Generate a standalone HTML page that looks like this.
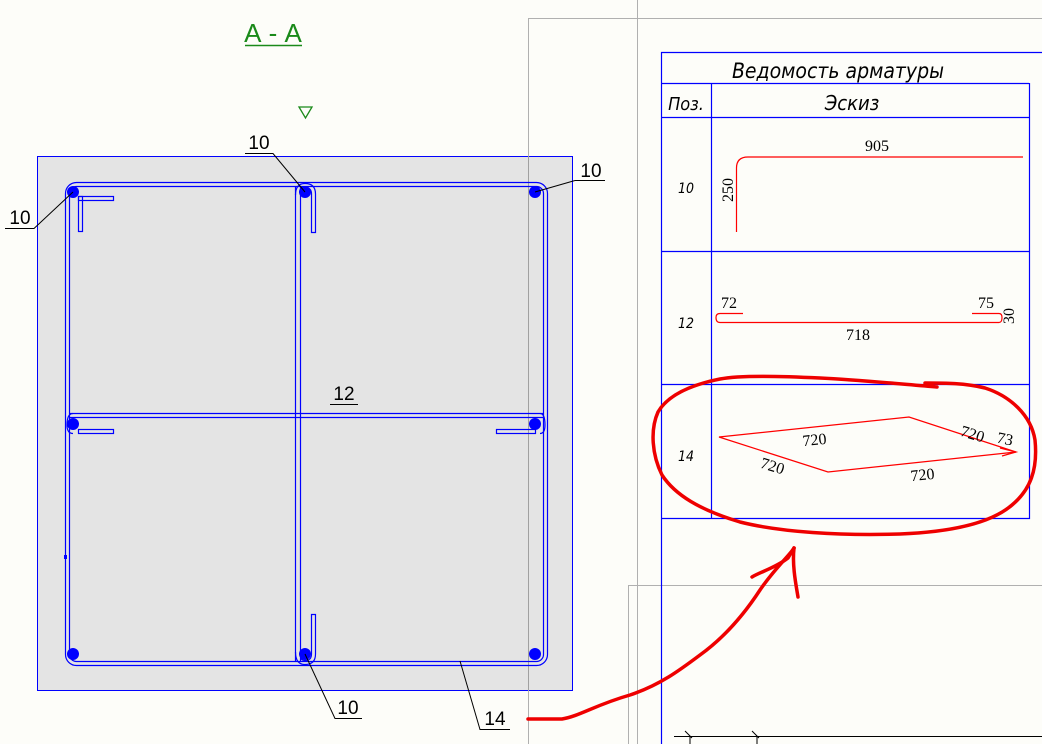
<!DOCTYPE html>
<html><head><meta charset="utf-8"><style>html,body{margin:0;padding:0;background:#fdfdf9;}svg{display:block}</style></head>
<body>
<svg width="1042" height="744" viewBox="0 0 1042 744" xmlns="http://www.w3.org/2000/svg" font-family="Liberation Sans, sans-serif">
<rect width="1042" height="744" fill="#fdfdf9"/>
<g stroke="#b0b0b0" stroke-width="1" fill="none">
<path d="M528.5 744V18.5H1042"/>
<path d="M637.5 0V744"/>
<path d="M628.5 744V585.5H1042"/>
</g>
<text x="273" y="42" font-size="26" fill="#1a8a1a" text-anchor="middle">А - А</text>
<line x1="245" y1="45.5" x2="302" y2="45.5" stroke="#1a8a1a" stroke-width="1.5"/>
<path d="M299 107H312L305.5 118Z" fill="none" stroke="#1a8a1a" stroke-width="1.3"/>
<rect x="37.5" y="156.5" width="535" height="534" fill="#e4e4e4" stroke="#0000ff" stroke-width="1"/>
<line x1="528.5" y1="156" x2="528.5" y2="691" stroke="#a0a0a0"/>
<g stroke="#0000ff" stroke-width="1.2" fill="none">
<rect x="65.5" y="182.5" width="482" height="483" rx="11"/>
<rect x="69.5" y="186.5" width="474" height="475" rx="7"/>
<path d="M295.5 186V662M300.5 186V662"/>
<path d="M69 413.5H544M69 417.5H544"/>
<path d="M295.5 195Q295.5 183.5 305 183.5Q315.5 183.5 315.5 194V232.5H311.5V194Q311.5 187.5 305 187.5Q300.5 187.5 300.5 192"/>
<path d="M295.5 652Q295.5 664.5 305 664.5Q315.5 664.5 315.5 654V614.5H311.5V654Q311.5 660.5 305 660.5Q300.5 660.5 300.5 656"/>
<rect x="78.5" y="196.5" width="35" height="4"/>
<rect x="78.5" y="196.5" width="4" height="35"/>
<rect x="78.5" y="429.5" width="35" height="4"/>
<rect x="496.5" y="429.5" width="39" height="4"/>
<path d="M67 425Q67 413.5 73 413.5M67 425Q67 433.5 73 433.5M545 425Q545 413.5 540 413.5M545 425Q545 433.5 540 433.5"/>
</g>
<g fill="#0000ff">
<circle cx="73" cy="192" r="6"/><circle cx="305" cy="192" r="6"/><circle cx="535" cy="192" r="6"/>
<circle cx="73" cy="424" r="6"/><circle cx="535" cy="424" r="6"/>
<circle cx="73" cy="654" r="6"/><circle cx="305" cy="654" r="6"/><circle cx="535" cy="654" r="6"/>
<rect x="64" y="555" width="3" height="4"/>
</g>
<g stroke="#000" stroke-width="1" fill="none">
<path d="M245 153.5H273L305 192"/>
<path d="M575 180.5H605M575 180.5L535 192"/>
<path d="M5 228.5H34L73 192"/>
<path d="M330 404.5H358"/>
<path d="M335 718.5H362H335L305 654"/>
<path d="M480 729.5H510H480L460 661"/>
</g>
<g font-size="19" fill="#000" text-anchor="middle">
<text x="259" y="149">10</text>
<text x="591" y="177">10</text>
<text x="20" y="224">10</text>
<text x="344" y="400">12</text>
<text x="348" y="714">10</text>
<text x="495" y="725">14</text>
</g>
<g stroke="#0000ff" stroke-width="1.2" fill="none">
<path d="M661.5 744V52.5H1042"/>
<path d="M1029.5 83V518.5H661.5"/>
<path d="M661 83.5H1029M661 117.5H1029M661 251.5H1029M661 384.5H1029"/>
<path d="M711.5 83V518"/>
</g>
<g font-family="DejaVu Sans Condensed, DejaVu Sans, sans-serif" font-style="italic" fill="#000" text-anchor="middle">
<text x="838" y="78" font-size="21">Ведомость арматуры</text>
<text x="686" y="110" font-size="18">Поз.</text>
<text x="852" y="110" font-size="20">Эскиз</text>
<text x="686" y="193" font-size="14">10</text>
<text x="686" y="328" font-size="14">12</text>
<text x="686" y="461" font-size="14">14</text>
</g>
<g stroke="#ff0000" stroke-width="1.2" fill="none">
<path d="M736.5 232V168Q736.5 157 748 157H1023"/>
<path d="M743 313.5H720Q716 313.5 716 317.5Q716 322.5 720 322.5H999Q1002 322.5 1002 317.5Q1002 313.5 999 313.5H972"/>
<path d="M719 437L909 417L1016 452L828 472Z"/>
<path d="M1000 448L1016 452L1002 456"/>
</g>
<g font-family="Liberation Serif, serif" font-size="16" fill="#000" text-anchor="middle">
<text x="877" y="151">905</text>
<text x="733" y="190" transform="rotate(-90 733 190)">250</text>
<text x="729" y="308">72</text>
<text x="986" y="308">75</text>
<text x="858" y="340">718</text>
<text x="1014" y="316" transform="rotate(-90 1014 316)">30</text>
<text x="815" y="445" transform="rotate(-6 815 445)">720</text>
<text x="771" y="471" transform="rotate(17 771 471)">720</text>
<text x="923" y="480" transform="rotate(-6 923 480)">720</text>
<text x="971" y="439" transform="rotate(17 971 439)">720</text>
<text x="1004" y="444" transform="rotate(12 1004 444)">73</text>
</g>
<g stroke="#000" stroke-width="1" fill="none">
<path d="M674 736.5H1042"/>
<path d="M685 731L692 738M690 736V744M752 731L759 738M757 736V744"/>
</g>
<g stroke="#ee0000" stroke-width="3.5" fill="none" stroke-linecap="round" stroke-linejoin="round">
<path d="M937 387C900 384 860 380 820 378C780 376 740 375 720 379C690 385 668 395 658 412C650 430 652 455 662 475C675 495 700 510 740 522C780 532 840 536 900 534C950 532 990 524 1012 505C1030 490 1038 470 1035 440C1031 415 1010 396 985 388C965 383 945 383 925 383"/>
<path d="M528 719H562C580 716 595 705 630 695C660 685 680 670 700 655C725 637 745 613 760 590C775 568 790 555 794 548"/>
<path d="M752 577C760 572 775 568 788 558L794 548"/>
<path d="M794 548C792 565 796 585 798 597"/>
</g>
</svg>
</body></html>
